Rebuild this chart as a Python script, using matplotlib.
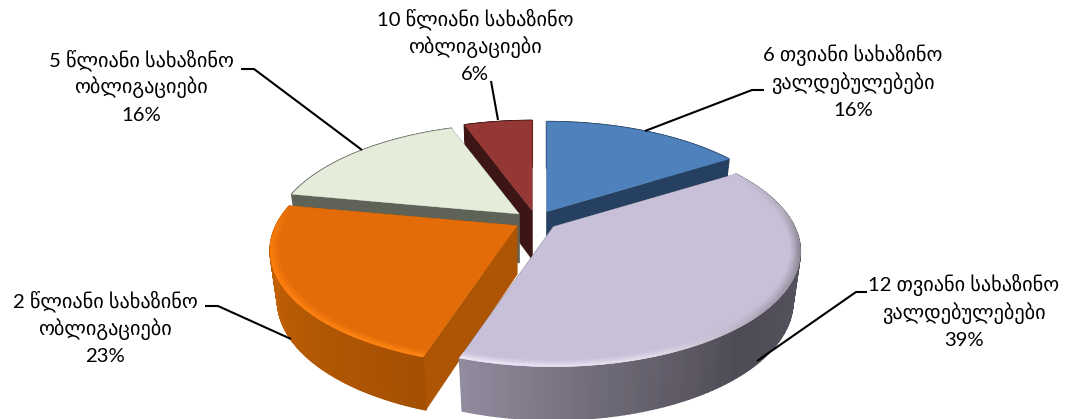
import numpy as np
import matplotlib
matplotlib.use("Agg")
import matplotlib.pyplot as plt
from matplotlib.collections import PolyCollection
from matplotlib.colors import to_rgb

plt.rcParams['font.family'] = ['Lato', 'DejaVu Sans']

# --- data -------------------------------------------------------------
first_lines = ["6 თვიანი სახაზინო", "12 თვიანი სახაზინო", "2 წლიანი სახაზინო",
               "5 წლიანი სახაზინო", "10 წლიანი სახაზინო"]
second_lines = ["ვალდებულებები", "ვალდებულებები", "ობლიგაციები",
                "ობლიგაციები", "ობლიგაციები"]
shares = [16.0, 39.0, 23.0, 16.5, 5.5]
percent_labels = ["16%", "39%", "23%", "16%", "6%"]

# --- style ------------------------------------------------------------
top_colors = ["#4F81BD", "#C8C0D8", "#E36C09", "#E5ECDA", "#953735"]
face_colors = ["#254061", "#4E4A55", "#AD5405", "#5F6257", "#3D1514"]
wall_keys = [None,
             ([57, 70, 100, 140, 170, 198],
              ["#6A6672", "#6A6672", "#575360", "#4F4B56", "#6F6A77", "#938C9F"]),
             ([198, 240, 281], ["#A45002", "#BA5C04", "#CC6606"]),
             None, None]
bevel_keys = [None,
              ([58, 80, 100, 130, 160, 198],
               ["#C8C0D8", "#B4AEBC", "#8C8794", "#A8A2B2", "#E4DDEC", "#F0E8F8"]),
              ([198, 240, 270, 281], ["#FF8612", "#FF8010", "#F57A0A", "#E36C09"]),
              None, None]
draw_order = [4, 0, 3, 2, 1]

cx, cy = 536.0, 220.5      # pie centre
ex, ey = 22.0, 10.0        # explosion
ax_r, by_r, k = 241.0, 109.6, 0.217   # rim projection
depth, sx, sy = 49.0, 0.97, 1.03

W, H = 1067, 419
fig = plt.figure(figsize=(W / 100, H / 100), dpi=100)
ax = fig.add_axes([0, 0, 1, 1])
ax.set_xlim(0, W)
ax.set_ylim(H, 0)
ax.axis('off')


def project(ang, r=1.0):
    u, v = r * np.sin(ang), r * np.cos(ang)
    w = 1 + k * v
    return ax_r * u / w, -by_r * v / w


def key_color(keys, deg):
    c = np.array([to_rgb(h) for h in keys[1]])
    return tuple(np.interp(deg, keys[0], c[:, i]) for i in range(3))


def lower(px, py):
    return px * sx, py * sy + depth


edges = np.concatenate([[0], np.cumsum(shares)]) / sum(shares) * 360.0

for i in draw_order:
    a0, a1 = edges[i], edges[i + 1]
    mid = np.radians((a0 + a1) / 2)
    ox = cx + ex * np.sin(mid)
    oy = cy - ey * np.cos(mid)
    degs = np.linspace(a0, a1, 120)
    angs = np.radians(degs)
    X, Y = project(angs)

    # end faces
    for j in (0, -1):
        bx, by = lower(X[j], Y[j])
        b0x, b0y = lower(0.0, 0.0)
        ax.fill([ox, ox + X[j], ox + bx, ox + b0x],
                [oy, oy + Y[j], oy + by, oy + b0y],
                color=face_colors[i], lw=0.3, zorder=1)

    # outer wall
    BX, BY = lower(X, Y)
    quads, cols = [], []
    for n in range(len(degs) - 1):
        quads.append([(ox + X[n], oy + Y[n]), (ox + X[n + 1], oy + Y[n + 1]),
                      (ox + BX[n + 1], oy + BY[n + 1]), (ox + BX[n], oy + BY[n])])
        cols.append(key_color(wall_keys[i], degs[n]) if wall_keys[i] else to_rgb(face_colors[i]))
    ax.add_collection(PolyCollection(quads, facecolors=cols, edgecolors=cols, linewidths=1.2))

    # top surface
    ax.fill(np.r_[ox, ox + X], np.r_[oy, oy + Y], color=top_colors[i], lw=0.2)

    # soft bevel along the rim
    if bevel_keys[i]:
        radii = np.linspace(0.962, 1.0, 7)
        base = np.array(to_rgb(top_colors[i]))
        for b in range(len(radii) - 1):
            t = ((b + 1) / (len(radii) - 1)) ** 1.3
            Xa, Ya = project(angs, radii[b])
            Xb, Yb = project(angs, radii[b + 1])
            q, c = [], []
            for n in range(len(degs) - 1):
                q.append([(ox + Xa[n], oy + Ya[n]), (ox + Xa[n + 1], oy + Ya[n + 1]),
                          (ox + Xb[n + 1], oy + Yb[n + 1]), (ox + Xb[n], oy + Yb[n])])
                col = base + (np.array(key_color(bevel_keys[i], degs[n])) - base) * t
                c.append(tuple(col))
            ax.add_collection(PolyCollection(q, facecolors=c, edgecolors=c, linewidths=0.4))

# --- labels and leader lines -----------------------------------------
label_x = [853, 964, 105, 141, 475]
label_y = [61, 291, 307, 66, 25]
line_step = 27.5
leaders = [([645, 752, 764], [131, 90, 90]),
           ([757, 856, 867], [361, 292, 292]),
           ([291, 218, 205], [339, 306, 306]),
           ([362, 254, 241], [150, 69, 69]),
           ([498, 491], [120, 81])]

for i in range(len(shares)):
    ax.plot(*leaders[i], color='black', lw=1.5, solid_capstyle='butt', zorder=5)
    lines = [first_lines[i], second_lines[i], percent_labels[i]]
    for n, line in enumerate(lines):
        ax.text(label_x[i], label_y[i] + n * line_step, line,
                ha='center', va='baseline', fontsize=14.6, color='black', zorder=6)

fig.savefig("out.png", dpi=100)
